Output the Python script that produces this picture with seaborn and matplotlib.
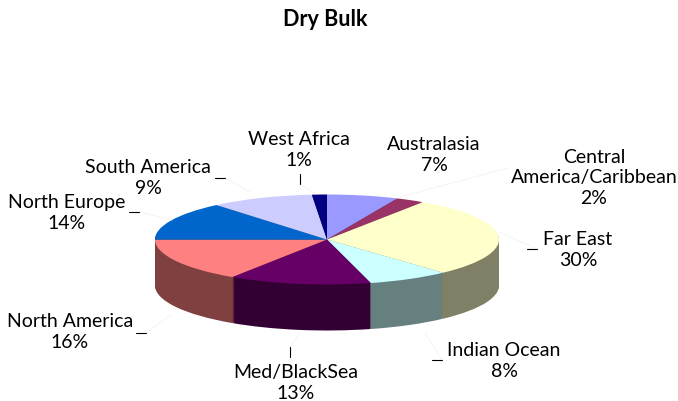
import numpy as np
import seaborn as sns
import matplotlib.pyplot as plt

regions = ['Australasia', 'Central\nAmerica/Caribbean', 'Far East', 'Indian Ocean', 'Med/BlackSea',
           'North America', 'North Europe', 'South America', 'West Africa']
# printed percentages
percent = [7, 2, 30, 8, 13, 16, 14, 9, 1]
# slice sizes (the printed labels are rounded)
shares = [6.7, 2.7, 28.8, 7.7, 13.4, 15.7, 13.9, 9.7, 1.4]
top_colors = ['#9999FF', '#993366', '#FFFFCC', '#CCFFFF', '#660066', '#FF8080', '#0066CC', '#CCCCFF', '#000080']

# label centres and leader dashes, in pixels of the 678x401 figure
label_pos = [(434, 155), (594, 178), (578, 250), (504, 361), (296, 383), (70, 332), (67, 213), (148, 178), (299, 150)]
dashes = [(527, 249, 537, 249), (432, 360, 442, 360), (290, 347, 290, 357), (136, 333, 146, 333),
          (129, 212, 139, 212), (215, 178, 225, 178), (299.5, 174, 299.5, 184)]
faint = [(537, 249, 499, 232), (442, 360, 425, 332), (290, 347, 300, 333), (146, 333, 172, 314),
         (139, 212, 172, 220), (225, 178, 250, 192), (299.5, 184, 316, 194), (508, 168, 400, 197)]

sns.set_style('white')
plt.rcParams['font.family'] = ['Lato', 'DejaVu Sans']

W, H = 678, 401
fig = plt.figure(figsize=(W / 100, H / 100), dpi=100)

# the pie is squashed: axes stretched so that one data unit is 172 px wide and 45 px high
depth = 46 / 45
ax = fig.add_axes([155 / W, 1 - (239.5 + 45 + 46) / H, 344 / W, (45 * 2 + 46) / H])
side_colors = [tuple(c * 0.5 for c in col) for col in sns.color_palette(top_colors)]
no_edge = {'linewidth': 0, 'edgecolor': 'none'}

# side wall: stack of darker pies going upwards
for off in np.linspace(depth, 0.02, 46):
    ax.pie(shares, colors=side_colors, startangle=90, counterclock=False, center=(0, -off), wedgeprops=no_edge)
ax.pie(shares, colors=top_colors, startangle=90, counterclock=False, center=(0, 0), wedgeprops=no_edge)
ax.set_aspect('auto')
ax.set_xlim(-1, 1)
ax.set_ylim(-1 - depth, 1)
ax.axis('off')

# overlay in pixel coordinates for the text
over = fig.add_axes([0, 0, 1, 1])
over.set_xlim(0, W)
over.set_ylim(H, 0)
over.axis('off')

for x0, y0, x1, y1 in faint:
    over.plot([x0, x1], [y0, y1], color='#f2f2f2', lw=0.6)
for x0, y0, x1, y1 in dashes:
    over.plot([x0, x1], [y0, y1], color='black', lw=0.8)

for name, pct, (x, y) in zip(regions, percent, label_pos):
    over.text(x, y, f'{name}\n{pct}%', ha='center', va='center', fontsize=14, color='black', linespacing=1.27)

over.text(325, 20, 'Dry Bulk', ha='center', va='center', fontsize=15.5, fontweight='bold', color='black')

fig.savefig('out.png', dpi=100)
